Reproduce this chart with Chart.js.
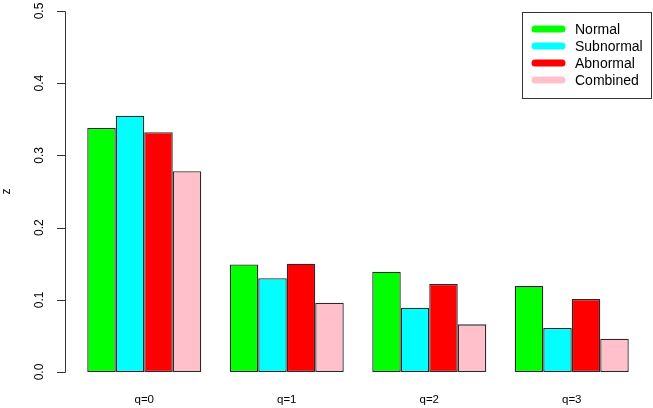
<!DOCTYPE html>
<html>
<head>
<meta charset="utf-8">
<script src="https://cdn.jsdelivr.net/npm/chart.js@4/dist/chart.umd.min.js"></script>
<style>
  html, body { margin: 0; padding: 0; background: #fff; }
  #wrap { width: 653px; height: 408px; position: relative; }
</style>
</head>
<body>
<div id="wrap"><canvas id="zChart"></canvas></div>
<script>
// values
const categories = ['q=0', 'q=1', 'q=2', 'q=3'];
const normal = [0.338, 0.149, 0.139, 0.119];
const subnormal = [0.355, 0.130, 0.089, 0.061];
const abnormal = [0.332, 0.150, 0.122, 0.101];
const combined = [0.278, 0.096, 0.066, 0.046];
const yTicks = [0, 0.1, 0.2, 0.3, 0.4, 0.5];
const yTickLabels = ['0.0', '0.1', '0.2', '0.3', '0.4', '0.5'];
const seriesNames = ['Normal', 'Subnormal', 'Abnormal', 'Combined'];
const seriesColors = ['#00ff00', '#00ffff', '#ff0000', '#ffc0cb'];
const yLabel = 'z';

const FONT = '"Liberation Sans", Arial, Helvetica, sans-serif';

// R-style axes and boxed legend, drawn from the chart's own scales
const baseGraphics = {
    id: 'baseGraphics',
    afterDraw(chart) {
        const ctx = chart.ctx;
        const y = chart.scales.y;
        const x = chart.scales.x;
        const axisX = 65;
        ctx.save();
        ctx.strokeStyle = '#333';
        ctx.lineWidth = 1;
        ctx.beginPath();
        ctx.moveTo(axisX + 0.5, Math.round(y.getPixelForValue(yTicks[0])) + 0.5);
        ctx.lineTo(axisX + 0.5, Math.round(y.getPixelForValue(yTicks[yTicks.length - 1])) + 0.5);
        yTicks.forEach(v => {
            const py = Math.round(y.getPixelForValue(v)) + 0.5;
            ctx.moveTo(axisX + 0.5, py);
            ctx.lineTo(axisX - 8, py);
        });
        ctx.stroke();

        ctx.fillStyle = '#000';
        ctx.font = '12px ' + FONT;
        ctx.textAlign = 'center';
        ctx.textBaseline = 'middle';
        yTicks.forEach((v, i) => {
            ctx.save();
            ctx.translate(40, y.getPixelForValue(v));
            ctx.rotate(-Math.PI / 2);
            ctx.fillText(yTickLabels[i], 0, 0);
            ctx.restore();
        });
        ctx.save();
        ctx.translate(7, (y.top + y.bottom) / 2);
        ctx.rotate(-Math.PI / 2);
        ctx.fillText(yLabel, 0, 0);
        ctx.restore();

        ctx.font = '11.5px ' + FONT;
        categories.forEach((c, i) => {
            ctx.fillText(c, x.getPixelForValue(i), 400);
        });

        // legend box
        const lx = 522, ly = 12, lw = 129, lh = 86;
        ctx.strokeStyle = '#333';
        ctx.lineWidth = 1;
        ctx.strokeRect(lx + 0.5, ly + 0.5, lw, lh);
        ctx.font = '14px ' + FONT;
        ctx.textAlign = 'left';
        ctx.lineCap = 'round';
        ctx.lineWidth = 7;
        seriesNames.forEach((name, i) => {
            const ry = 29 + i * 17;
            ctx.strokeStyle = seriesColors[i];
            ctx.beginPath();
            ctx.moveTo(535, ry);
            ctx.lineTo(562, ry);
            ctx.stroke();
            ctx.fillStyle = '#000';
            ctx.fillText(name, 575, ry + 1);
        });
        ctx.restore();
    }
};

const seriesData = [normal, subnormal, abnormal, combined];
const ctx = document.getElementById('zChart').getContext('2d');
new Chart(ctx, {
    type: 'bar',
    data: {
        labels: categories,
        datasets: seriesData.map((d, i) => ({
            label: seriesNames[i],
            data: d,
            backgroundColor: seriesColors[i],
            borderColor: '#2a2a2a',
            borderWidth: 1.3,
            borderSkipped: false,
            categoryPercentage: 0.8,
            barPercentage: 1.0,
        }))
    },
    options: {
        responsive: true,
        maintainAspectRatio: false,
        animation: false,
        layout: { padding: { left: 73, right: 10, top: 11, bottom: 36 } },
        plugins: {
            legend: { display: false },
            tooltip: { enabled: false },
            title: { display: false }
        },
        scales: {
            x: { display: false },
            y: { display: false, min: 0, max: 0.5 }
        }
    },
    plugins: [baseGraphics]
});
</script>
</body>
</html>
